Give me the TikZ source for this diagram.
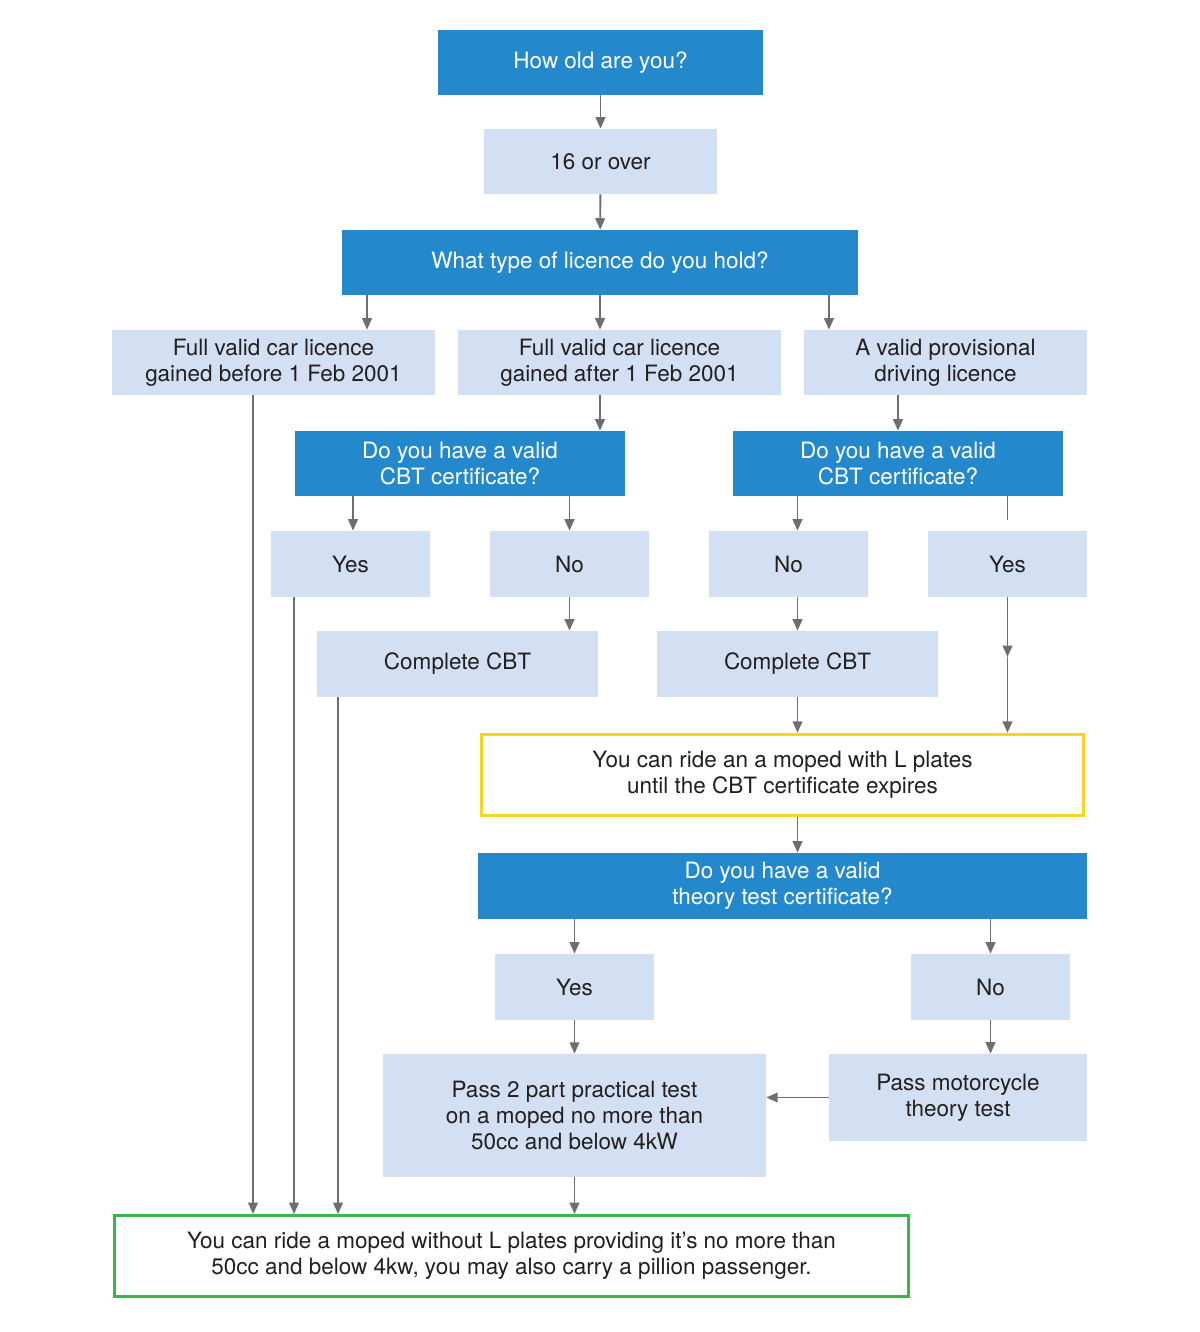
\documentclass[tikz,border=0pt]{standalone}
\usepackage{fontspec}
\setmainfont{TeX Gyre Heros}
\usetikzlibrary{arrows.meta}
\definecolor{qblue}{HTML}{2489CC}
\definecolor{pblue}{HTML}{D3DFF2}
\definecolor{agray}{HTML}{6D6E71}
\definecolor{ryellow}{HTML}{F9D423}
\definecolor{rgreen}{HTML}{3DB54A}
\definecolor{txtc}{HTML}{231F20}
\tikzset{
  dbox/.style={fill=qblue, text=white, align=center, inner sep=0pt, minimum height=1.3cm},
  lbox/.style={fill=pblue, text=txtc, align=center, inner sep=0pt, minimum height=1.32cm},
  rbox/.style={draw, line width=1.7pt, fill=white, text=txtc, align=center, inner sep=0pt, minimum height=1.63cm},
  link/.style={draw=agray, line width=1.1pt},
  arr/.style={link, -{Triangle[length=6.5pt,width=5.5pt]}},
}
\begin{document}
\begin{tikzpicture}[x=0.02cm,y=-0.02cm,font=\fontsize{12.8}{15}\selectfont]
\useasboundingbox (0,0) rectangle (1200,1332);
% questions and answers
\node[dbox, minimum width=6.5cm] (age) at (600.5,62.5) {How old are you?};
\node[lbox, minimum width=4.66cm, minimum height=1.3cm] (over) at (600.5,161.5) {16 or over};
\node[dbox, minimum width=10.32cm] (lic) at (600,262.5) {What type of licence do you hold?};
\node[lbox, minimum width=6.46cm, minimum height=1.3cm] (before) at (273.5,362.5) {Full valid car licence\\gained before 1 Feb 2001};
\node[lbox, minimum width=6.46cm, minimum height=1.3cm] (after) at (619.5,362.5) {Full valid car licence\\gained after 1 Feb 2001};
\node[lbox, minimum width=5.66cm, minimum height=1.3cm] (prov) at (945.5,362.5) {A valid provisional\\driving licence};
\node[dbox, minimum width=6.6cm] (cbtA) at (460,463.5) {Do you have a valid\\CBT certificate?};
\node[dbox, minimum width=6.6cm] (cbtB) at (898,463.5) {Do you have a valid\\CBT certificate?};
\node[lbox, minimum width=3.18cm] (yesA) at (350.5,564) {Yes};
\node[lbox, minimum width=3.18cm] (noA) at (569.5,564) {No};
\node[lbox, minimum width=3.18cm] (noB) at (788.5,564) {No};
\node[lbox, minimum width=3.18cm] (yesB) at (1007.5,564) {Yes};
\node[lbox, minimum width=5.62cm] (doA) at (457.5,664) {Complete CBT};
\node[lbox, minimum width=5.62cm] (doB) at (797.5,664) {Complete CBT};
\node[rbox, draw=ryellow, minimum width=12.04cm] (lplates) at (782.5,775) {You can ride an a moped with L plates\\until the CBT certificate expires};
\node[dbox, minimum width=12.18cm, minimum height=1.32cm] (theory) at (782.5,886) {Do you have a valid\\theory test certificate?};
\node[lbox, minimum width=3.18cm] (yesC) at (574.5,987) {Yes};
\node[lbox, minimum width=3.18cm] (noC) at (990.5,987) {No};
\node[lbox, minimum width=7.66cm, minimum height=2.46cm] (prac) at (574.5,1115.5) {Pass 2 part practical test\\on a moped no more than\\50cc and below 4kW};
\node[lbox, minimum width=5.16cm, minimum height=1.74cm] (moto) at (958,1097.5) {Pass motorcycle\\theory test};
\node[rbox, draw=rgreen, minimum width=15.88cm, minimum height=1.62cm] (free) at (511.5,1256) {You can ride a moped without L plates providing it’s no more than\\50cc and below 4kw, you may also carry a pillion passenger.};
% connectors
\draw[arr] (age) -- (over);
\draw[arr] (over) -- (lic);
\draw[arr] ([xshift=-4.66cm]lic.south) coordinate (t1) -- (t1 |- before.north);
\draw[arr] (lic) -- (after.north -| lic.south);
\draw[arr] ([xshift=4.58cm]lic.south) coordinate (t2) -- (t2 |- prov.north);
\draw[arr] ([xshift=-0.39cm]after.south) coordinate (t3) -- (t3 |- cbtA.north);
\draw[arr] (cbtB.north |- prov.south) -- (cbtB.north);
\draw[arr] ([xshift=0.05cm]yesA.north |- cbtA.south) coordinate (t4) -- (t4 |- yesA.north);
\draw[arr] (noA.north |- cbtA.south) -- (noA.north);
\draw[arr] (doB.north |- cbtB.south) -- (doB.north |- noB.north);
\coordinate (stub) at (1007.5,520);
\draw[link] (stub |- cbtB.south) -- (stub);
\draw[arr] (noA.south) -- (noA.south |- doA.north);
\draw[arr] (doB.north |- noB.south) -- (doB.north);
\draw[arr] (doB.south) -- (doB.south |- lplates.north);
\coordinate (mid) at (1007.5,657);
\draw[arr] (yesB.south) -- (mid);
\draw[arr] (mid) -- (mid |- lplates.north);
\draw[arr] (doB.south |- lplates.south) -- (doB.south |- theory.north);
\draw[arr] (yesC.north |- theory.south) -- (yesC.north);
\draw[arr] (noC.north |- theory.south) -- (noC.north);
\draw[arr] (yesC.south) -- (prac.north);
\draw[arr] (noC.south) -- (noC.south |- moto.north);
\draw[arr] (moto.west) -- (moto.west -| prac.east);
\draw[arr] (prac.south) -- (prac.south |- free.north);
\draw[arr] ([xshift=-0.41cm]before.south) coordinate (t5) -- (t5 |- free.north);
\draw[arr] ([xshift=-1.13cm]yesA.south) coordinate (t6) -- (t6 |- free.north);
\draw[arr] ([xshift=-2.39cm]doA.south) coordinate (t7) -- (t7 |- free.north);
\end{tikzpicture}
\end{document}
